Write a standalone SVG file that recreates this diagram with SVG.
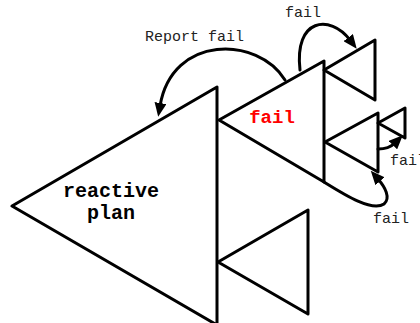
<svg xmlns="http://www.w3.org/2000/svg" width="420" height="323" viewBox="0 0 420 323">
<style>
.tri{fill:#fff;stroke:#000;stroke-width:3;stroke-linejoin:round}
.con{fill:none;stroke:#000;stroke-width:3;stroke-linecap:round}
.lbl{font-family:"Liberation Mono","Courier New",monospace;font-size:15px;fill:#222}
.big{font-family:"Liberation Mono","Courier New",monospace;font-weight:bold;font-size:20px;fill:#000;text-anchor:middle}
</style>
<defs>
<marker id="ah" markerUnits="userSpaceOnUse" markerWidth="14" markerHeight="12" refX="3" refY="6" orient="auto">
<path d="M0,0 L14,6 L0,12 z" fill="#000"/>
</marker>
</defs>
<g id="node-plan">
<polygon class="tri" points="12,206 217,87 217,325"/>
<text class="big" x="111" y="197">reactive</text>
<text class="big" x="111" y="219">plan</text>
</g>
<g id="node-fail">
<polygon class="tri" points="219,120 324,61 324,182"/>
<text class="big" x="272" y="123" style="fill:#f00;font-size:19px">fail</text>
</g>
<g id="node-top">
<polygon class="tri" points="324,70 375,40 375,100"/>
</g>
<g id="node-mid">
<polygon class="tri" points="325,142 378,113 378,172"/>
</g>
<g id="node-tiny">
<polygon class="tri" points="378,123 405,108 405,138"/>
</g>
<g id="node-low">
<polygon class="tri" points="218,262 308,210 308,314"/>
</g>
<g id="connectors">
<path class="con" d="M285,80 C258,36 172,34 160,106" marker-end="url(#ah)"/>
<path class="con" d="M300,70 C294,18 330,14 350,40" marker-end="url(#ah)"/>
<path class="con" d="M378,149 C386,149 391,147 395,143" marker-end="url(#ah)"/>
<path class="con" d="M324,182 C345,195 372,212 384,204 C391,198 385,187 378,179" marker-end="url(#ah)"/>
</g>
<g id="labels">
<text class="lbl" x="145" y="41">Report fail</text>
<text class="lbl" x="285" y="17">fail</text>
<text class="lbl" x="390" y="165">fail</text>
<text class="lbl" x="373" y="223">fail</text>
</g>
</svg>
